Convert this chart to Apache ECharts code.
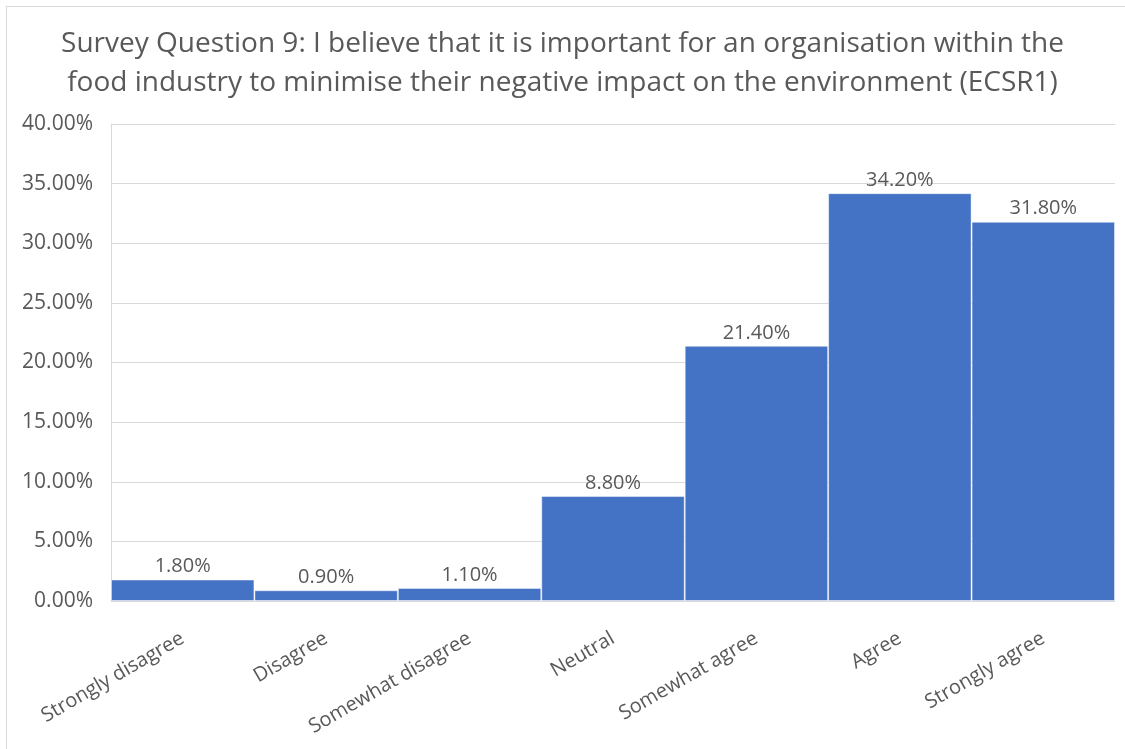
<!DOCTYPE html>
<html>
<head>
<meta charset="utf-8">
<script src="https://cdn.jsdelivr.net/npm/echarts@6/dist/echarts.min.js"></script>
<style>
  html, body { margin: 0; padding: 0; background: #fff; }
  #frame { position: absolute; left: 6px; top: 6px; width: 1125px; height: 749px; box-sizing: border-box; border: 1px solid #d9d9d9; border-right: none; border-bottom: none; pointer-events: none; }
  #chart { width: 1125px; height: 749px; }
</style>
</head>
<body>
<div id="chart"></div>
<div id="frame"></div>
<script>
const categories = ['Strongly disagree', 'Disagree', 'Somewhat disagree', 'Neutral', 'Somewhat agree', 'Agree', 'Strongly agree'];
const shares = [1.8, 0.9, 1.1, 8.8, 21.4, 34.2, 31.8];
const titleLines = [
  'Survey Question 9: I believe that it is important for an organisation within the',
  'food industry to minimise their negative impact on the environment (ECSR1)'
];

const FONT = '"Open Sans", "Noto Sans", sans-serif';
const chart = echarts.init(document.getElementById('chart'));
chart.setOption({
  animation: false,
  title: {
    text: titleLines.join('\n'),
    left: 'center',
    top: 20,
    textStyle: { fontFamily: FONT, fontSize: 28, fontWeight: 'normal', color: '#595959', lineHeight: 39 }
  },
  grid: { left: 111, right: 10, top: 124, bottom: 148 },
  xAxis: {
    type: 'category',
    data: categories,
    axisLine: { lineStyle: { color: '#d9d9d9' } },
    axisTick: { show: false },
    axisLabel: { rotate: 30, fontFamily: FONT, fontSize: 20, color: '#595959', margin: 36, interval: 0 }
  },
  yAxis: {
    type: 'value',
    min: 0, max: 40, interval: 5,
    axisLine: { show: true, lineStyle: { color: '#d9d9d9' } },
    axisTick: { show: false },
    splitLine: { lineStyle: { color: '#d9d9d9', width: 1 } },
    axisLabel: { fontFamily: FONT, fontSize: 21, color: '#595959', margin: 18, formatter: v => v.toFixed(2) + '%' }
  },
  series: [{
    type: 'bar',
    data: shares,
    barCategoryGap: 0,
    itemStyle: { color: '#4472C4', borderColor: 'rgba(255,255,255,0.45)', borderWidth: 1 },
    label: {
      show: true, position: 'top', distance: 3,
      fontFamily: FONT, fontSize: 20, color: '#595959',
      formatter: p => p.value.toFixed(2) + '%'
    }
  }]
});
</script>
</body>
</html>
